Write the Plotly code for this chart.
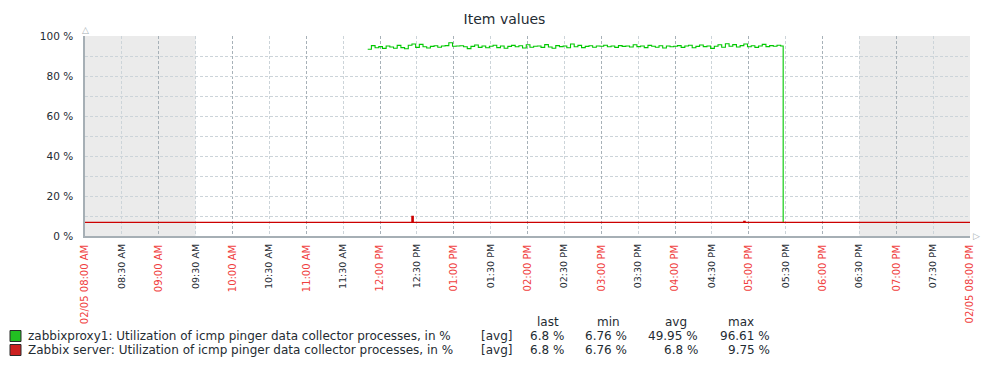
import pandas as pd
import plotly.graph_objects as go

# ---------------- data ----------------
range_start = "2024-02-05 08:00"
range_end = "2024-02-05 20:00"

hour_ticks = list(pd.date_range(range_start, range_end, freq="60min"))
hour_labels = ["02/05 08:00 AM", "09:00 AM", "10:00 AM", "11:00 AM", "12:00 PM",
               "01:00 PM", "02:00 PM", "03:00 PM", "04:00 PM", "05:00 PM",
               "06:00 PM", "07:00 PM", "02/05 08:00 PM"]
half_ticks = list(pd.date_range("2024-02-05 08:30", "2024-02-05 19:30", freq="60min"))
half_labels = ["08:30 AM", "09:30 AM", "10:30 AM", "11:30 AM", "12:30 PM", "01:30 PM",
               "02:30 PM", "03:30 PM", "04:30 PM", "05:30 PM", "06:30 PM", "07:30 PM"]

shade_periods = [("2024-02-05 08:00", "2024-02-05 09:30"),
                 ("2024-02-05 18:30", "2024-02-05 20:00")]

green_name = "zabbixproxy1: Utilization of icmp pinger data collector processes, in %"
green_values = [
    93.4, 95.2, 94.1, 94.7, 93.8, 95.0, 94.5, 93.9, 95.3, 94.2,
    93.6, 95.4, 96.0, 94.3, 95.8, 94.6, 94.0, 94.8, 95.1, 94.4,
    95.0, 95.2, 96.6, 94.9, 95.0, 95.1, 94.6, 93.7, 94.8, 95.5,
    94.3, 95.0, 94.1, 94.9, 95.4, 94.2, 95.0, 93.9, 94.8, 95.3,
    94.6, 95.1, 94.0, 95.6, 94.4, 94.9, 95.0, 94.3, 95.7, 94.5,
    93.9, 95.2, 94.7, 95.0, 94.1, 96.0, 94.6, 95.3, 94.2, 94.8,
    95.1, 94.4, 95.0, 94.9, 95.4, 94.6, 95.0, 94.3, 95.2, 94.8,
    95.0, 94.5, 95.6, 94.7, 95.0, 94.2, 95.3, 94.9, 94.4, 95.1,
    94.0, 95.0, 94.6, 94.9, 95.2, 94.3, 95.0, 95.4, 94.1, 94.8,
    95.5, 94.7, 95.0, 93.8, 94.9, 95.6, 94.4, 96.1, 94.9, 95.7,
    94.5, 95.2, 96.0, 94.6, 95.1, 94.3, 95.0, 95.8, 94.7, 95.2,
    94.9, 95.4, 95.0, 6.8]
green_times = list(pd.date_range("2024-02-05 11:50", periods=113, freq="3min")) + \
    [pd.Timestamp("2024-02-05 17:28")]

red_name = "Zabbix server: Utilization of icmp pinger data collector processes, in %"
red_times = ["2024-02-05 08:00", "2024-02-05 12:26", "2024-02-05 12:27",
             "2024-02-05 16:56", "2024-02-05 16:57", "2024-02-05 20:00"]
red_values = [6.8, 9.75, 6.8, 7.3, 6.8, 6.8]

y_ticks = [0, 20, 40, 60, 80, 100]
y_labels = ["0 %", "20 %", "40 %", "60 %", "80 %", "100 %"]

stat_names = ["last", "min", "avg", "max"]
green_stats = ["6.8 %", "6.76 %", "49.95 %", "96.61 %"]
red_stats = ["6.8 %", "6.76 %", "6.8 %", "9.75 %"]

# ---------------- style ----------------
FONT = "DejaVu Sans"
TXT = "#1f2c33"
GREEN = "#00c800"
RED = "#cc0000"
AXIS = "#a6afb5"
GRID_MAJOR = "#a7b1b8"
GRID_MINOR = "#ccd4d9"

OFF = 8  # default page body margin
W, H = 1001 - OFF, 368 - OFF
L, T = 85 - OFF, 36 - OFF
PW, PH = 885, 200
R, B = W - L - PW, H - T - PH


def px(x):  # window pixel -> paper fraction
    return (x - OFF - L) / PW


def py(y):
    return (T + PH - (y - OFF)) / PH


fig = go.Figure()

fig.add_trace(go.Scatter(x=green_times, y=green_values, mode="lines",
                         line=dict(color=GREEN, width=1.1, shape="hv"),
                         name=green_name, showlegend=False, hoverinfo="skip"))
fig.add_trace(go.Scatter(x=red_times, y=red_values, mode="lines",
                         line=dict(color=RED, width=1.4, shape="hv"),
                         name=red_name, showlegend=False, hoverinfo="skip"))
# invisible trace to activate the half-hour label axis
fig.add_trace(go.Scatter(x=[range_start, range_end], y=[None, None], xaxis="x2",
                         mode="lines", showlegend=False, hoverinfo="skip"))

for s, e in shade_periods:
    fig.add_shape(type="rect", xref="x", yref="y domain", x0=s, x1=e, y0=0, y1=1,
                  fillcolor="#ebebeb", line=dict(width=0), layer="below")

fig.update_layout(
    width=W, height=H,
    margin=dict(l=L, r=R, t=T, b=B, autoexpand=False),
    paper_bgcolor="white", plot_bgcolor="white",
    font=dict(family=FONT, color=TXT, size=11),
    title=dict(text="Item values", x=0.5, xanchor="center", y=1 - (19 - OFF) / H,
               yanchor="middle", font=dict(size=14, color=TXT, family=FONT)),
    xaxis=dict(type="date", range=[range_start, range_end],
               tickmode="array", tickvals=hour_ticks, ticktext=hour_labels,
               tickangle=-90, tickfont=dict(size=10, color="#f04040", family=FONT),
               ticks="", ticklabelstandoff=3,
               showgrid=True, gridcolor=GRID_MAJOR, griddash="3px,2px", gridwidth=1,
               showline=True, linecolor=AXIS, linewidth=1.5,
               zeroline=False, automargin=False, fixedrange=True),
    xaxis2=dict(type="date", range=[range_start, range_end], overlaying="x",
                side="bottom", tickmode="array", tickvals=half_ticks,
                ticktext=half_labels, tickangle=-90,
                tickfont=dict(size=9.5, color=TXT, family=FONT),
                ticks="", ticklabelstandoff=5,
                showgrid=True, gridcolor=GRID_MINOR, griddash="3px,2px", gridwidth=1,
                showline=False, zeroline=False, automargin=False, fixedrange=True),
    yaxis=dict(range=[0, 100], tickmode="array", tickvals=y_ticks, ticktext=y_labels,
               tickfont=dict(size=10.5, color=TXT, family=FONT), ticks="",
               ticklabelstandoff=8,
               showgrid=True, gridcolor=GRID_MINOR, griddash="3px,2px", gridwidth=1,
               minor=dict(tickvals=[10, 30, 50, 70, 90], showgrid=True,
                          gridcolor=GRID_MINOR, griddash="3px,2px", gridwidth=1),
               showline=True, linecolor=AXIS, linewidth=1.5,
               zeroline=False, automargin=False, fixedrange=True),
)

# axis arrow heads
fig.add_annotation(xref="paper", yref="paper", x=0, y=1, yshift=6, text="△",
                   showarrow=False, font=dict(size=9, color=AXIS, family=FONT),
                   xanchor="center", yanchor="middle")
fig.add_annotation(xref="paper", yref="paper", x=1, y=0, xshift=6, text="▷",
                   showarrow=False, font=dict(size=9, color=AXIS, family=FONT),
                   xanchor="center", yanchor="middle")

# legend table
LF = 12
rows = [(green_name, green_stats, "#22c022", 336), (red_name, red_stats, "#cc2020", 350)]
header_centers = [548, 608, 676, 741]
value_rights = [566, 629, 700, 772]
for name, h in zip(stat_names, header_centers):
    fig.add_annotation(xref="paper", yref="paper", x=px(h), y=py(322), text=name,
                       showarrow=False, xanchor="center", yanchor="middle",
                       font=dict(size=LF, color=TXT, family=FONT))
for name, stats, col, yy in rows:
    fig.add_shape(type="rect", xref="paper", yref="paper",
                  x0=px(10), x1=px(21), y0=py(yy - 5.5), y1=py(yy + 5.5),
                  fillcolor=col, line=dict(color="#2a2a2a", width=1))
    fig.add_annotation(xref="paper", yref="paper", x=px(26), y=py(yy), text=name,
                       showarrow=False, xanchor="left", yanchor="middle",
                       font=dict(size=LF, color=TXT, family=FONT))
    fig.add_annotation(xref="paper", yref="paper", x=px(479), y=py(yy), text="[avg]",
                       showarrow=False, xanchor="left", yanchor="middle",
                       font=dict(size=LF, color=TXT, family=FONT))
    for v, r in zip(stats, value_rights):
        fig.add_annotation(xref="paper", yref="paper", x=px(r), y=py(yy), text=v,
                           showarrow=False, xanchor="right", yanchor="middle",
                           font=dict(size=LF, color=TXT, family=FONT))

fig.write_html("out.html")
